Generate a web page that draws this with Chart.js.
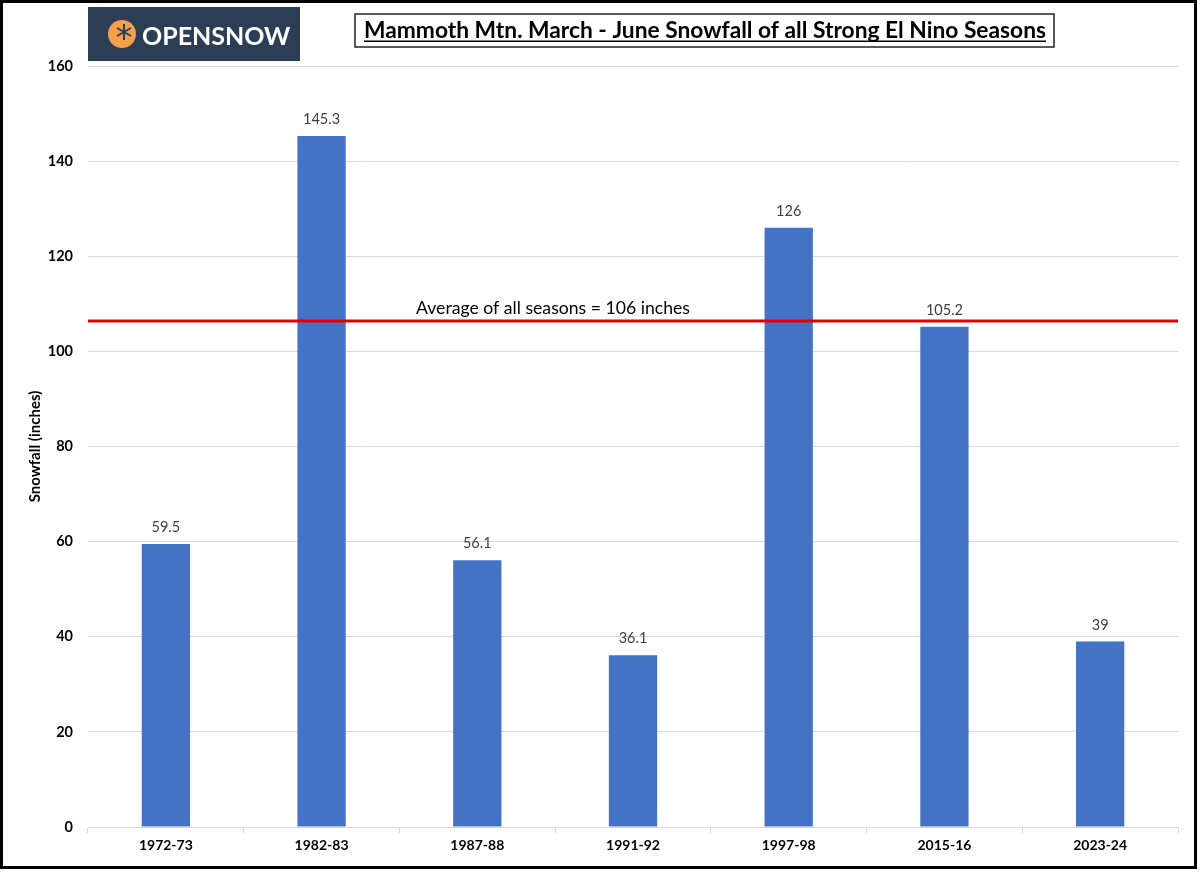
<!DOCTYPE html>
<html>
<head>
<meta charset="utf-8">
<script src="https://cdn.jsdelivr.net/npm/chart.js@4.4.1/dist/chart.umd.min.js"></script>
<style>
  html, body { margin: 0; padding: 0; background: #fff; }
  #myChart { display: block; }
</style>
</head>
<body>
<canvas id="myChart" width="1200" height="872"></canvas>
<script>

// data
var seasons = ['1972-73', '1982-83', '1987-88', '1991-92', '1997-98', '2015-16', '2023-24'];
var snowfall = [59.5, 145.3, 56.1, 36.1, 126, 105.2, 39];
var yTicks = [0, 20, 40, 60, 80, 100, 120, 140, 160];
var averageLine = [106.4];
var averageText = ['Average of all seasons = 106 inches'];
var chartTitle = ['Mammoth Mtn. March - June Snowfall of all Strong El Nino Seasons'];

var FONT = 'Lato, "Open Sans", sans-serif';

// fit a string into a given width by shrinking the font size
function fitFont(ctx, text, weight, size, maxW) {
    ctx.font = weight + ' ' + size + 'px ' + FONT;
    while (ctx.measureText(text).width > maxW && size > 8) {
        size -= 0.5;
        ctx.font = weight + ' ' + size + 'px ' + FONT;
    }
    return size;
}

var decorPlugin = {
    id: 'decor',
    afterDatasetsDraw: function(chart) {
        var ctx = chart.ctx;
        var y = chart.scales.y;
        var area = chart.chartArea;

        // value labels above bars
        var meta = chart.getDatasetMeta(0);
        ctx.save();
        ctx.fillStyle = '#404040';
        ctx.font = '14.5px ' + FONT;
        ctx.textAlign = 'center';
        ctx.textBaseline = 'alphabetic';
        meta.data.forEach(function(bar, i) {
            ctx.fillText(String(snowfall[i]), bar.x, bar.y - 12);
        });
        ctx.restore();

        // average line
        var ay = y.getPixelForValue(averageLine[0]);
        ctx.save();
        ctx.strokeStyle = '#e60000';
        ctx.lineWidth = 3;
        ctx.beginPath();
        ctx.moveTo(area.left, ay);
        ctx.lineTo(area.right, ay);
        ctx.stroke();
        ctx.fillStyle = '#000';
        ctx.textAlign = 'left';
        ctx.textBaseline = 'alphabetic';
        ctx.font = 'normal 18px ' + FONT;
        var aw = ctx.measureText(averageText[0]).width;
        ctx.translate(416, ay - 7);
        ctx.scale(Math.min(1, 274 / aw), 1);
        ctx.fillText(averageText[0], 0, 0);
        ctx.restore();
    },
    afterDraw: function(chart) {
        var ctx = chart.ctx;
        ctx.save();

        // outer frame
        ctx.strokeStyle = '#000';
        ctx.lineWidth = 3;
        ctx.strokeRect(1.5, 1.5, 1194, 866);

        // logo
        ctx.fillStyle = '#2c3e56';
        ctx.fillRect(88, 7, 212, 54);
        ctx.fillStyle = '#f2a04a';
        ctx.beginPath();
        ctx.arc(122, 34, 14, 0, Math.PI * 2);
        ctx.fill();
        ctx.strokeStyle = '#2c3e56';
        ctx.lineWidth = 2;
        for (var k = 0; k < 3; k++) {
            var a = k * Math.PI / 3 + Math.PI / 6;
            ctx.beginPath();
            ctx.moveTo(124 - Math.cos(a) * 8, 32 - Math.sin(a) * 8);
            ctx.lineTo(124 + Math.cos(a) * 8, 32 + Math.sin(a) * 8);
            ctx.stroke();
        }
        ctx.fillStyle = '#fff';
        ctx.textAlign = 'left';
        ctx.textBaseline = 'alphabetic';
        fitFont(ctx, 'OPENSNOW', 'bold', 26, 150);
        ctx.fillText('OPENSNOW', 142, 45);

        // title box
        ctx.strokeStyle = '#222';
        ctx.lineWidth = 1.5;
        ctx.strokeRect(355, 14, 699, 33);
        ctx.fillStyle = '#000';
        ctx.textAlign = 'left';
        ctx.font = 'bold 23px ' + FONT;
        var tw = ctx.measureText(chartTitle[0]).width;
        var sx = Math.min(1, 682 / tw);
        ctx.save();
        ctx.translate(705 - tw * sx / 2, 38);
        ctx.scale(sx, 1);
        ctx.fillText(chartTitle[0], 0, 0);
        ctx.restore();
        ctx.fillRect(705 - tw * sx / 2, 40.5, tw * sx, 1.5);

        ctx.restore();
    }
};

var ctx = document.getElementById('myChart').getContext('2d');
var myChart = new Chart(ctx, {
    type: 'bar',
    data: {
        labels: seasons,
        datasets: [{
            data: snowfall,
            backgroundColor: '#4472c4',
            borderWidth: 0,
            categoryPercentage: 1,
            barPercentage: 0.31
        }]
    },
    options: {
        responsive: false,
        animation: false,
        layout: {
            padding: { top: 66, right: 22, bottom: 0, left: 0 }
        },
        plugins: {
            legend: { display: false },
            tooltip: { enabled: false }
        },
        scales: {
            x: {
                grid: {
                    drawOnChartArea: false,
                    drawTicks: true,
                    tickLength: 6,
                    color: '#d9d9d9'
                },
                border: { color: '#d9d9d9' },
                ticks: {
                    color: '#000',
                    padding: 4,
                    font: { family: FONT, size: 14, weight: 'bold' }
                },
                afterFit: function(scale) { scale.height = 45; }
            },
            y: {
                min: 0,
                max: 160,
                afterBuildTicks: function(scale) {
                    scale.ticks = yTicks.map(function(v) { return { value: v }; });
                },
                grid: {
                    color: '#d9d9d9',
                    drawTicks: false
                },
                border: { display: false },
                ticks: {
                    color: '#000',
                    padding: 15,
                    font: { family: FONT, size: 14.5, weight: 'bold' }
                },
                title: {
                    display: true,
                    text: 'Snowfall (inches)',
                    color: '#000',
                    padding: { top: 26, bottom: 0 },
                    font: { family: FONT, size: 15, weight: 'bold' }
                },
                afterFit: function(scale) { scale.width = 88; }
            }
        }
    },
    plugins: [decorPlugin]
});

</script>
</body>
</html>
